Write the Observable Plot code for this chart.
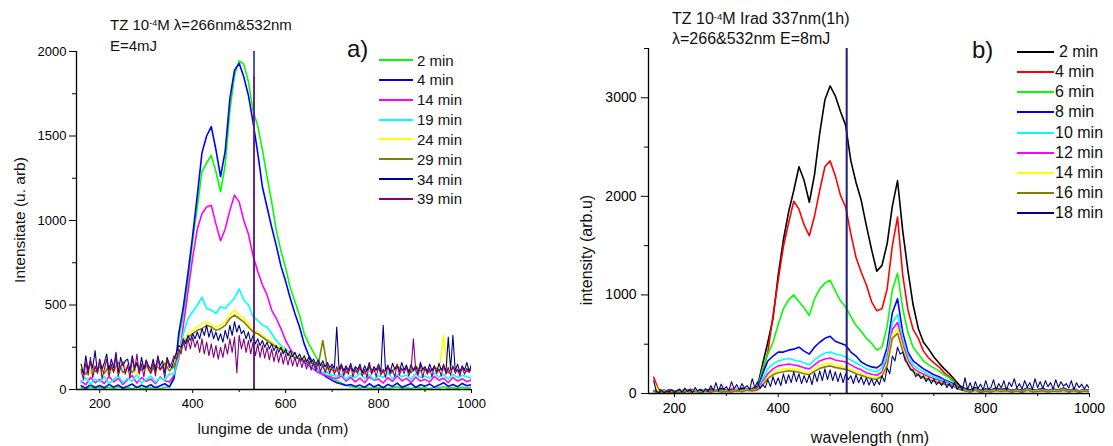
<!DOCTYPE html>
<html><head><meta charset="utf-8">
<script src="https://cdn.jsdelivr.net/npm/d3@7"></script>
<script src="https://cdn.jsdelivr.net/npm/@observablehq/plot@0.6"></script>
<style>
body{margin:0;background:#fff;font-family:Arial,"Liberation Sans",sans-serif;}
#wrap{position:relative;width:1113px;height:446px;overflow:hidden;background:#fff;}
#wrap svg{position:absolute;top:0;}
.t{position:absolute;white-space:nowrap;color:#111;line-height:1;}
.sw{position:absolute;height:2px;}
sup{font-size:0.6em;vertical-align:0.45em;line-height:0;}
</style></head>
<body><div id="wrap"></div>
<script>
// ---------- wavelength grids ----------
const wl10 = [160,170,180,190,200, 210,220,230,240,250, 260,270,280,290,300, 310,320,330,340,350,
  360,370,380,390,400, 410,420,430,440,450, 460,470,480,490,500, 510,520,530,540,550,
  560,570,580,590,600, 610,620,630,640,650, 660,670,680,690,700, 710,720,730,740,750,
  760,770,780,790,800, 810,820,830,840,850, 860,870,880,890,900, 910,920,930,940,950, 960,970,980,990,1000];
const wl5 = [160,165,170,175,180,185,190,195,200,205, 210,215,220,225,230,235,240,245,250,255,
  260,265,270,275,280,285,290,295,300,305, 310,315,320,325,330,335,340,345,350,355,
  360,365,370,375,380,385,390,395,400,405, 410,415,420,425,430,435,440,445,450,455,
  460,465,470,475,480,485,490,495,500,505, 510,515,520,525,530,535,540,545,550,555,
  560,565,570,575,580,585,590,595,600,605, 610,615,620,625,630,635,640,645,650,655,
  660,665,670,675,680,685,690,695,700,705, 710,715,720,725,730,735,740,745,750,755,
  760,765,770,775,780,785,790,795,800,805, 810,815,820,825,830,835,840,845,850,855,
  860,865,870,875,880,885,890,895,900,905, 910,915,920,925,930,935,940,945,950,955,
  960,965,970,975,980,985,990,995,1000];

// ---------- Panel a data ----------
const namesA = ["2 min","4 min","14 min","19 min","24 min","29 min","34 min","39 min"];
const colorsA = ["#00ff00","#0000ff","#ff00ff","#00ffff","#ffff00","#808000","#000080","#800080"];
const a2 = [10,4,14,7,12, 5,13,8,16,6, 11,4,15,7,10, 8,14,5,12,18,
  60,300,450,650,880, 1080,1290,1340,1385,1290, 1170,1330,1650,1860,1945, 1925,1820,1650,1560,1420,
  1260,1110,940,820,720, 603,520,440,330,270, 220,170,131,100,72, 52,38,26,18,14,
  9,16,6,12,8, 14,5,10,17,7, 11,6,15,8,12, 5,13,9,16,7, 12,6,14,9,11];
const a4 = [22,8,28,12,24, 10,30,14,26,9, 20,32,11,25,15, 28,10,22,34,16,
  70,330,490,690,910, 1150,1400,1500,1555,1420, 1260,1410,1720,1890,1930, 1850,1740,1580,1400,1200,
  1080,960,850,730,640, 540,450,370,270,200, 150,115,90,70,55, 40,33,24,30,18,
  26,12,34,15,28, 10,30,18,38,14, 24,36,12,28,20, 32,14,26,40,18, 30,16,36,22,28];
const a14 = [50,28,72,40,60, 35,78,45,66,30, 58,82,38,70,48, 62,34,75,52,44,
  85,180,380,580,780, 950,1040,1080,1090,980, 880,950,1060,1150,1110, 1000,920,790,700,620,
  560,470,420,360,290, 240,200,180,160,140, 120,100,90,80,70, 65,80,50,72,45,
  68,40,75,55,62, 38,70,48,80,52, 66,42,74,50,60, 45,78,55,68,40, 72,50,64,46,58];
const a19 = [40,70,30,62,45, 75,35,58,82,40, 66,48,90,38,60, 80,44,70,55,92,
  90,200,330,420,460, 500,545,480,470,450, 490,480,510,540,595, 530,500,430,410,380,
  370,330,290,260,240, 215,200,185,170,150, 130,115,100,95,85, 78,92,60,84,70,
  96,65,88,58,82, 72,100,62,90,75, 86,60,94,70,80, 66,98,74,88,62, 90,70,84,76,68];
const a24 = [110,170,90,140,100, 150,80,130,95,160, 105,140,88,155,120, 95,145,110,165,130,
  150,230,290,330,350, 370,390,400,380,370, 380,400,440,470,440, 420,390,350,340,320,
  300,280,260,250,230, 210,200,190,180,170, 160,150,140,130,120, 110,140,95,130,100,
  125,90,140,105,120, 95,135,100,150,110, 130,95,145,105,125, 100,140,110,320,95, 135,105,125,115,140];
const a29 = [120,90,150,105,135, 95,140,110,160,100, 130,100,150,115,140, 105,145,120,155,110,
  140,210,270,310,330, 350,360,380,370,350, 360,380,420,440,420, 400,370,340,330,310,
  290,270,250,240,220, 200,190,180,170,160, 150,140,290,125,115, 110,130,100,125,105,
  120,95,130,110,125, 100,130,105,140,115, 125,100,135,110,120, 105,130,115,125,100, 130,110,120,105,125];
// 5 nm sampling for the two top-most (noisiest) traces
const a34 = [150,90,200,110,170,130,230,100,180,120, 160,210,110,180,130,220,100,190,140,170,
  180,110,200,130,160,100,190,120,175,140, 120,180,110,200,140,170,100,190,150,130,
  180,220,260,250,300,270,320,290,330,300, 340,300,360,320,380,310,360,300,340,290,
  330,280,350,300,380,320,400,340,380,330, 350,300,340,280,320,270,300,260,290,250,
  280,240,270,230,260,220,250,210,240,200, 230,195,220,185,210,175,200,165,190,160,
  180,150,175,140,170,135,160,130,150,125, 370,120,150,110,140,115,155,105,135,120,
  150,100,140,110,160,95,135,115,150,105, 380,110,145,100,155,120,140,105,160,115,
  145,100,150,110,140,95,160,120,135,105, 150,110,140,100,155,115,145,105,310,120,
  320,110,150,100,140,115,160,105,150];
const a39 = [110,60,160,85,190,70,140,95,175,65, 120,180,75,150,100,200,80,135,165,90,
  145,70,185,110,210,90,150,75,170,120, 95,160,80,190,115,140,70,175,130,160,
  200,180,240,210,290,230,300,240,310,250, 290,220,300,210,280,200,270,190,260,180,
  250,190,270,210,300,220,310,100,320,240, 300,220,290,210,280,200,270,190,260,185,
  250,175,240,165,230,160,220,150,210,145, 200,140,190,135,185,130,175,120,170,115,
  165,110,160,105,150,100,145,95,140,90, 135,85,150,80,130,90,145,75,125,95,
  140,80,120,70,150,90,125,75,135,85, 120,70,140,90,115,75,150,85,125,95,
  135,80,120,300,110,85,145,70,130,90, 125,75,140,95,120,80,150,90,130,85,
  140,95,120,80,135,90,125,100,130];
const valuesA = [a2,a4,a14,a19,a24,a29,a34,a39];
const gridsA = [wl10,wl10,wl10,wl10,wl10,wl10,wl5,wl5];
const yTicksA = [0,500,1000,1500,2000];
const yMinorA = [250,750,1250,1750];
const xTicks = [200,400,600,800,1000];
const xMinor = [300,500,700,900];
const laserNm = 532;
const laserTopsA = [2000, 1850];
const laserColorsA = ["#1a1a9c", "#6e1a78"];

// ---------- Panel b data ----------
const namesB = ["2 min","4 min","6 min","8 min","10 min","12 min","14 min","16 min","18 min"];
const colorsB = ["#000000","#ff0000","#00ff00","#0000ff","#00ffff","#ff00ff","#ffff00","#808000","#000080"];
const b2 = [25,40,18,35,22, 30,15,42,20,35, 28,45,22,50,30, 40,25,55,35,48,
  70,300,520,760,1200, 1560,1840,2060,2300,2160, 1940,2220,2640,2980,3120, 3020,2860,2720,2360,2140,
  1960,1700,1460,1240,1300, 1520,1900,2160,1650,1250, 900,660,520,450,370, 310,250,200,140,80,
  50,35,60,30,45, 35,55,40,50,30, 45,30,55,35,40, 50,30,45,35,55, 30,45,25,40,35];
const b4 = [165,30,20,38,25, 32,18,40,22,30, 25,42,28,36,30, 45,28,40,35,52,
  60,210,420,790,1150, 1490,1730,1950,1870,1710, 1600,1800,2060,2300,2360, 2210,2010,1890,1620,1380,
  1230,1100,930,840,860, 1060,1500,1790,1200,850, 650,560,430,360,310, 270,210,170,110,60,
  40,28,52,22,38, 30,48,35,42,28, 40,25,50,30,38, 45,28,40,32,50, 28,42,24,38,30];
const b6 = [30,20,35,18,28, 22,38,25,32,20, 35,24,40,28,34, 26,42,30,45,36,
  50,250,400,520,700, 860,950,1000,930,870, 790,960,1060,1120,1150, 1040,940,880,780,690,
  630,560,510,440,470, 680,1050,1220,860,620, 470,400,330,290,260, 230,190,160,100,60,
  38,25,45,20,35, 28,44,30,40,25, 36,22,46,28,34, 40,26,38,30,45, 25,40,22,36,28];
const b8 = [28,18,32,15,25, 20,35,22,30,18, 32,22,38,25,30, 24,40,28,42,34,
  45,200,330,380,420, 420,440,450,470,430, 400,470,520,560,580, 530,510,490,420,380,
  320,290,270,260,300, 470,820,960,620,420, 330,290,250,220,190, 170,140,120,90,50,
  35,22,42,18,32, 25,40,28,38,22, 34,20,44,26,30, 38,24,36,28,42, 22,38,20,34,26];
const b10 = [25,15,30,12,22, 18,32,20,28,15, 30,20,35,22,28, 22,38,25,40,32,
  42,150,250,300,330, 345,355,340,330,310, 290,340,380,410,420, 400,390,370,340,310,
  280,250,230,220,260, 400,720,800,550,380, 290,250,220,190,170, 150,130,110,80,50,
  32,20,40,16,30, 22,38,26,35,20, 32,18,42,24,28, 35,22,34,26,40, 20,35,18,32,24];
const b12 = [22,14,28,10,20, 16,30,18,26,14, 28,18,32,20,26, 20,35,22,38,30,
  40,120,200,250,280, 290,300,290,280,260, 250,290,330,350,360, 340,330,320,290,260,
  240,210,195,185,220, 350,650,720,500,340, 260,220,195,170,150, 135,115,100,75,45,
  30,18,36,15,28, 20,35,24,32,18, 30,16,38,22,26, 32,20,30,24,36, 18,32,16,30,22];
const b14 = [120,12,25,10,18, 15,28,16,24,12, 25,16,30,18,24, 18,32,20,35,28,
  36,100,170,210,235, 245,255,250,240,220, 210,250,285,300,310, 290,280,270,250,220,
  205,180,165,160,190, 310,600,660,460,310, 240,200,175,155,135, 120,105,90,70,42,
  28,16,34,14,26, 18,32,22,30,16, 28,15,35,20,24, 30,18,28,22,34, 16,30,15,28,20];
const b16 = [20,10,22,8,16, 14,25,15,22,10, 22,14,28,16,22, 16,30,18,32,26,
  34,85,150,190,210, 220,230,225,215,200, 190,225,255,270,280, 265,255,245,225,200,
  185,165,150,145,175, 280,560,610,430,290, 220,185,160,140,125, 110,95,85,65,40,
  26,15,32,12,24, 16,30,20,28,15, 26,14,32,18,22, 28,16,26,20,32, 15,28,14,26,18];
const b18 = [130,20,10,35,5,25,15,40,8,30, 45,12,55,20,38,10,60,25,45,15,
  50,20,80,30,110,25,95,40,70,30, 120,45,90,35,100,55,80,40,150,60,
  120,50,90,60,140,70,170,90,160,80, 200,100,190,110,220,120,200,100,180,110,
  190,90,210,120,230,130,250,140,240,130, 220,120,210,110,200,140,180,100,190,110,
  170,90,160,85,150,80,140,90,180,120, 260,200,380,330,470,400,420,330,300,240,
  240,170,200,150,180,120,160,100,150,90, 120,80,130,60,100,50,110,40,80,30,
  160,40,110,30,120,50,95,35,130,45, 60,140,40,100,55,130,35,115,70,150,
  55,100,45,130,65,110,40,150,60,120, 50,130,70,110,45,140,60,120,75,100,
  55,130,40,110,60,95,45,90,50];
const valuesB = [b2,b4,b6,b8,b10,b12,b14,b16,b18];
const gridsB = [wl10,wl10,wl10,wl10,wl10,wl10,wl10,wl10,wl5];
const yTicksB = [0,1000,2000,3000];
const yMinorB = [500,1500,2500,3500];
const laserTopsB = [3500];
const laserColorsB = ["#1c1c7a"];

// ---------- build ----------
const rows = (wl, vals) => wl.map((nm, i) => ({nm, v: vals[i]}));
const fmt = d => String(d);
const FONT = "Arial, 'Liberation Sans', sans-serif";

function panel(o) {
  const marks = [];
  o.values.forEach((vals, i) => marks.push(
    Plot.line(rows(o.grids[i], vals), {x: "nm", y: "v", stroke: o.colors[i],
      strokeWidth: o.grids[i] === wl5 ? 1.1 : 1.6, clip: true})));
  o.laserTops.forEach((t, i) => marks.push(
    Plot.ruleX([{nm: laserNm, lo: 0, hi: t}], {x: "nm", y1: "lo", y2: "hi", stroke: o.laserColors[i], strokeWidth: o.laserWidth, clip: true})));
  marks.push(Plot.ruleY([0], {stroke: "#000", strokeWidth: 1.3}));
  marks.push(Plot.ruleX([o.xDomain[0]], {stroke: "#000", strokeWidth: 1.3}));
  marks.push(Plot.axisY(o.yTicks, {tickSize: 7, tickPadding: o.yPad, tickFormat: fmt, label: null, fontSize: o.fs}));
  marks.push(Plot.axisY(o.yMinor, {tickSize: 4, tickFormat: () => "", label: null}));
  marks.push(Plot.axisX(xTicks, {tickSize: 4, tickPadding: o.xPad, tickFormat: fmt, label: null, fontSize: o.fs}));
  marks.push(Plot.axisX(xMinor, {tickSize: 3, tickFormat: () => "", label: null}));
  const svg = Plot.plot({
    width: o.width, height: 446,
    marginLeft: o.ml, marginRight: o.mr, marginTop: o.mt, marginBottom: o.mb,
    x: {domain: o.xDomain},
    y: {domain: o.yDomain},
    style: {fontFamily: FONT, fontSize: o.fs + "px", color: "#000", background: "transparent", overflow: "visible"},
    marks
  });
  svg.style.left = o.left + "px";
  svg.style.maxWidth = "none";
  return svg;
}

const wrap = document.getElementById("wrap");
wrap.appendChild(panel({grids: gridsA, values: valuesA, colors: colorsA, laserTops: laserTopsA, laserColors: laserColorsA, laserWidth: 1.5,
  width: 556, left: 0, ml: 76, mr: 85, mt: 51, mb: 57, xDomain: [150, 1000], yDomain: [0, 2000],
  yTicks: yTicksA, yMinor: yMinorA, fs: 13, yPad: 3, xPad: 5}));
wrap.appendChild(panel({grids: gridsB, values: valuesB, colors: colorsB, laserTops: laserTopsB, laserColors: laserColorsB, laserWidth: 2,
  width: 557, left: 556, ml: 92, mr: 24, mt: 48, mb: 53, xDomain: [150, 1000], yDomain: [0, 3500],
  yTicks: yTicksB, yMinor: yMinorB, fs: 14, yPad: 5, xPad: 6}));

function addText(html, left, top, fs, extra) {
  const d = document.createElement("div");
  d.className = "t";
  d.innerHTML = html;
  d.style.left = left + "px"; d.style.top = top + "px"; d.style.fontSize = fs + "px";
  if (extra) Object.assign(d.style, extra);
  wrap.appendChild(d);
  return d;
}
// titles
addText("TZ 10<sup>-4</sup>M &lambda;=266nm&amp;532nm", 110, 17, 15);
addText("E=4mJ", 110, 37.5, 15);
addText("a)", 347, 37, 24);
addText("TZ 10<sup>-4</sup>M Irad 337nm(1h)", 672, 11, 16);
addText("&lambda;=266&amp;532nm E=8mJ", 672, 31, 16);
addText("b)", 972, 38, 24);
// axis titles
addText("lungime de unda (nm)", 273, 421, 15.5, {transform: "translateX(-50%)"});
addText("wavelength (nm)", 870, 429.5, 16, {transform: "translateX(-50%)"});
addText("Intensitate (u. arb)", 20, 220, 15.5, {transform: "translate(-50%,-50%) rotate(-90deg)"});
addText("intensity (arb.u)", 587, 250, 16, {transform: "translate(-50%,-50%) rotate(-90deg)"});
// legends
function legend(names, colors, x1, x2, textX, y0, step, fs, textXs) {
  names.forEach((n, i) => {
    const y = y0 + i * step;
    const s = document.createElement("div");
    s.className = "sw";
    s.style.left = x1 + "px"; s.style.width = (x2 - x1) + "px"; s.style.top = Math.round(y - 1) + "px";
    s.style.backgroundColor = colors[i];
    wrap.appendChild(s);
    addText(n, textXs ? textXs[i] : textX, y - fs / 2, fs);
  });
}
legend(namesA, colorsA, 379, 413, 417, 60, 19.85, 15);
legend(namesB, colorsB, 1017, 1054, 1055, 51.7, 20.2, 16, [1059,1055,1055,1055,1055,1055,1055,1055,1055]);
</script></body></html>
